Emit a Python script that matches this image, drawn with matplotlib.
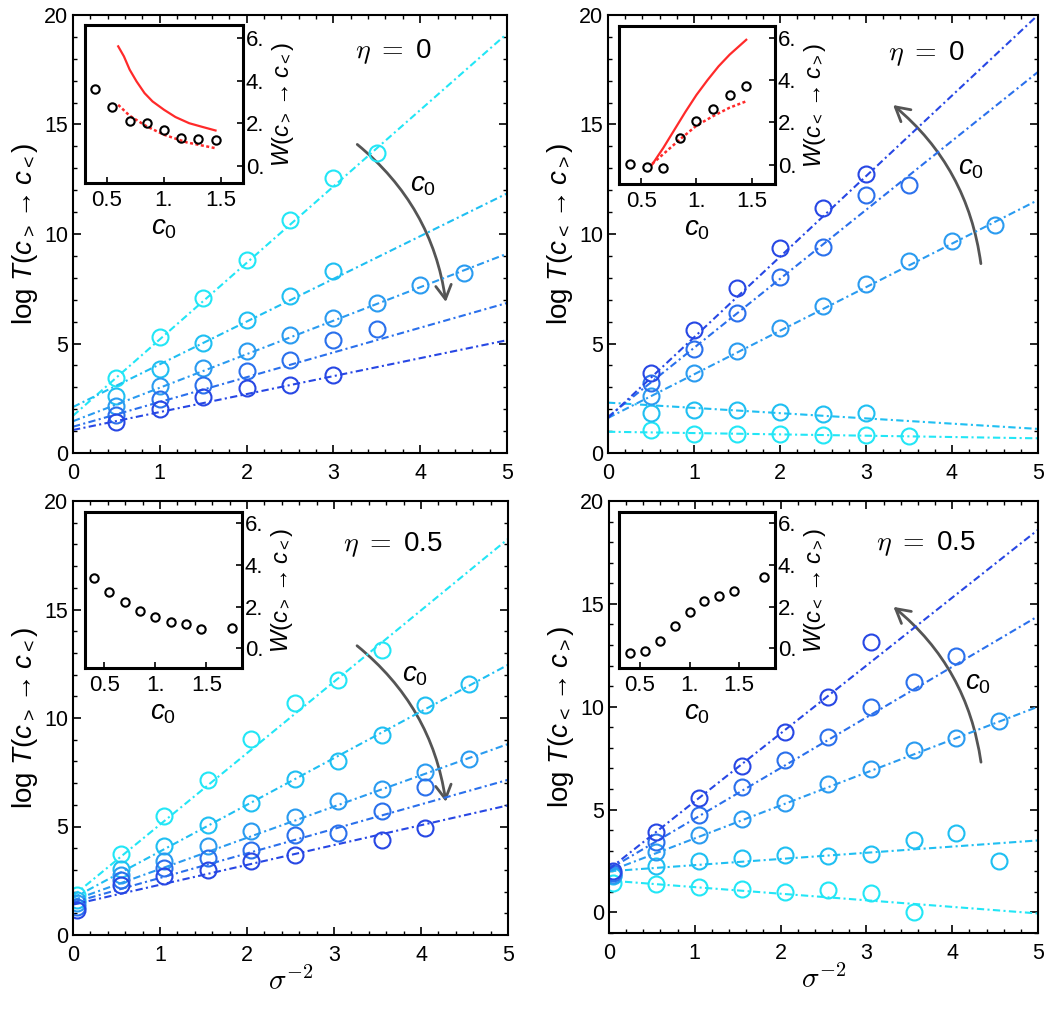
import numpy as np
import matplotlib.pyplot as plt
from matplotlib.patches import FancyArrowPatch
from matplotlib.ticker import MultipleLocator

plt.rcParams['font.family'] = 'Liberation Sans'
plt.rcParams['mathtext.fontset'] = 'custom'
plt.rcParams['mathtext.rm'] = 'Liberation Sans'
plt.rcParams['mathtext.it'] = 'Liberation Sans:italic'
plt.rcParams['mathtext.bf'] = 'Liberation Sans:bold'

# series colours, weakest (cyan) -> strongest (blue)
blues = ['#22E6F6', '#1FBFF2', '#2A9BF0', '#2A70EC', '#2747E4']
red = '#FF2A2A'

# ---------------- top left: eta = 0, c> -> c<
tl_x = [0.5, 1.0, 1.5, 2.0, 2.5, 3.0, 3.5, 4.0, 4.5]
tl_y = [[3.42, 5.29, 7.07, 8.82, 10.62, 12.55, 13.69],
        [2.59, 3.85, 5.02, 6.08, 7.18, 8.29],
        [2.13, 3.04, 3.88, 4.64, 5.40, 6.16, 6.84, 7.65, 8.24],
        [1.75, 2.48, 3.12, 3.73, 4.26, 5.14, 5.66],
        [1.40, 2.00, 2.55, 2.97, 3.12, 3.54]]
tl_b0 = [1.70, 2.10, 1.45, 1.20, 1.05]
tl_b1 = [3.49, 1.95, 1.53, 1.13, 0.82]

# ---------------- top right: eta = 0, c< -> c>
tr_x = [0.5, 1.0, 1.5, 2.0, 2.5, 3.0, 3.5, 4.0, 4.5]
tr_y = [[1.03, 0.88, 0.87, 0.87, 0.84, 0.81, 0.79],
        [1.82, 1.95, 1.95, 1.87, 1.78, 1.82],
        [2.59, 3.65, 4.68, 5.70, 6.69, 7.73, 8.78, 9.66, 10.42],
        [3.19, 4.75, 6.39, 8.02, 9.40, 11.79, 12.24],
        [3.65, 5.63, 7.53, 9.35, 11.18, 12.75]]
tr_b0 = [0.97, 2.30, 1.60, 1.65, 1.60]
tr_b1 = [-0.06, -0.24, 1.99, 3.15, 3.68]

# ---------------- bottom left: eta = 0.5, c> -> c<
bl_x = [0.05, 0.55, 1.05, 1.55, 2.05, 2.55, 3.05, 3.55, 4.05, 4.55]
bl_y = [[1.85, 3.73, 5.47, 7.12, 9.04, 10.71, 11.76, 13.13],
        [1.62, 3.05, 4.08, 5.08, 6.09, 7.20, 8.04, 9.21, 10.60, 11.56],
        [1.46, 2.77, 3.39, 4.11, 4.78, 5.42, 6.19, 6.75, 7.50, 8.12],
        [1.31, 2.54, 3.08, 3.54, 3.93, 4.59, 4.70, 5.70, 6.83],
        [1.16, 2.31, 2.70, 3.00, 3.39, 3.70, np.nan, 4.39, 4.93]]
bl_b0 = [1.80, 1.70, 1.60, 1.50, 1.40]
bl_b1 = [3.29, 2.15, 1.44, 1.13, 0.915]

# ---------------- bottom right: eta = 0.5, c< -> c>
br_x = [0.05, 0.55, 1.05, 1.55, 2.05, 2.55, 3.05, 3.55, 4.05, 4.55]
br_y = [[1.42, 1.39, 1.26, 1.13, 0.99, 1.10, 0.94, 0.00],
        [1.75, 2.27, 2.52, 2.64, 2.80, 2.72, 2.85, 3.50, 3.88, 2.48],
        [1.83, 2.96, 3.74, 4.53, 5.34, 6.23, 6.96, 7.90, 8.46, 9.32],
        [1.91, 3.41, 4.74, 6.12, 7.41, 8.51, 9.97, 11.21, 12.46],
        [1.99, 3.90, 5.55, 7.12, 8.75, 10.45, 13.16]]
br_b0 = [1.55, 2.00, 2.00, 2.10, 2.10]
br_b1 = [-0.32, 0.30, 1.60, 2.46, 3.30]

# ---------------- insets: W vs c0
in_c0 = [0.4, 0.55, 0.7, 0.85, 1.0, 1.15, 1.3, 1.45]
in_c0_b = [0.4, 0.55, 0.7, 0.85, 1.0, 1.15, 1.3, 1.45, 1.75]
tl_w = [3.61, 2.77, 2.11, 2.00, 1.66, 1.30, 1.25, 1.22]
tr_w = [0.06, -0.09, -0.14, 1.27, 2.09, 2.64, 3.28, 3.74]
bl_w = [3.36, 2.69, 2.24, 1.79, 1.49, 1.28, 1.17, 0.93, 0.96]
br_w = [-0.24, -0.11, 0.37, 1.07, 1.73, 2.28, 2.52, 2.75, 3.44]

tl_solid_x = [0.6, 0.65, 0.7, 0.76, 0.83, 0.9, 1.0, 1.1, 1.22, 1.34, 1.45]
tl_solid_y = [5.60, 5.13, 4.51, 3.96, 3.41, 3.02, 2.63, 2.29, 2.00, 1.82, 1.66]
tl_dot_x = [0.6, 0.7, 0.85, 1.0, 1.2, 1.45]
tl_dot_y = [2.86, 2.35, 1.85, 1.46, 1.10, 0.83]
tr_solid_x = [0.6, 0.7, 0.8, 0.9, 1.0, 1.1, 1.2, 1.3, 1.45]
tr_solid_y = [0.02, 0.80, 1.65, 2.50, 3.30, 4.00, 4.65, 5.20, 5.90]
tr_dot_x = [0.6, 0.85, 1.0, 1.15, 1.3, 1.45]
tr_dot_y = [0.05, 1.20, 1.85, 2.30, 2.70, 3.00]

lab_gt = r'log $T(c_{>} \rightarrow c_{<})$'
lab_lt = r'log $T(c_{<} \rightarrow c_{>})$'
wlab_gt = r'$W(c_{>} \rightarrow c_{<})$'
wlab_lt = r'$W(c_{<} \rightarrow c_{>})$'

fig = plt.figure(figsize=(10.63, 10.09), dpi=100)


def main_panel(rect, xs, ys, b0, b1, ylim, ylabel, arrow, rad, c0_pos, eta, eta_pos, xlabel=False):
    ax = fig.add_axes(rect)
    xx = np.array([0.0, 5.0])
    for k in range(5):
        n = len(ys[k])
        ax.plot(xx, b0[k] + b1[k] * xx, color=blues[k], lw=1.5, dashes=(3.5, 1.6, 1.0, 1.6))
        ax.plot(xs[:n], ys[k], 'o', mfc='none', mec=blues[k], ms=11.5, mew=1.5)
    ax.set_xlim(0, 5)
    ax.set_ylim(*ylim)
    ax.set_xticks(range(6))
    ax.set_yticks([0, 5, 10, 15, 20])
    ax.xaxis.set_minor_locator(MultipleLocator(0.2))
    ax.yaxis.set_minor_locator(MultipleLocator(1))
    ax.tick_params(which='both', direction='in', top=True, right=True, labelsize=15.5)
    ax.tick_params(which='major', length=6, width=1.2)
    ax.tick_params(which='minor', length=3, width=1.0)
    ax.tick_params(axis='x', pad=7)
    for s in ax.spines.values():
        s.set_linewidth(1.5)
    ax.set_ylabel(ylabel, fontsize=20, labelpad=3)
    if xlabel:
        ax.set_xlabel(r'$\sigma^{-2}$', fontsize=21, math_fontfamily='cm', labelpad=0)
    arr = FancyArrowPatch(arrow[0], arrow[1], connectionstyle=f'arc3,rad={rad}',
                          arrowstyle='->,head_length=0.5,head_width=0.28',
                          mutation_scale=20, color='#555555', lw=2)
    ax.add_patch(arr)
    ax.text(c0_pos[0], c0_pos[1], '$c_0$', fontsize=20, ha='center', va='center')
    ax.text(eta_pos[0], eta_pos[1], eta, fontsize=20, ha='center', va='center',
            math_fontfamily='cm')
    return ax


def inset_panel(rect, xs, ws, xlim, ylim, ylabel, solid=None, dotted=None):
    ia = fig.add_axes(rect)
    if solid is not None:
        ia.plot(solid[0], solid[1], color=red, lw=1.6)
    if dotted is not None:
        ia.plot(dotted[0], dotted[1], color=red, lw=1.8, dashes=(1.2, 1.0))
    ia.plot(xs, ws, 'o', mfc='none', mec='k', ms=6, mew=1.5)
    ia.set_xlim(*xlim)
    ia.set_ylim(*ylim)
    ia.set_xticks([0.5, 1.0, 1.5])
    ia.set_xticklabels(['0.5', '1.', '1.5'])
    ia.set_yticks([0, 2, 4, 6])
    ia.set_yticklabels(['0.', '2.', '4.', '6.'])
    ia.yaxis.tick_right()
    ia.yaxis.set_label_position('right')
    ia.tick_params(direction='in', length=4, width=1.2, labelsize=16)
    ia.tick_params(axis='x', pad=5)
    ia.tick_params(axis='y', pad=2)
    for s in ia.spines.values():
        s.set_linewidth(2.2)
    ia.set_xlabel('$c_0$', fontsize=20, labelpad=3)
    ia.set_ylabel(ylabel, fontsize=17, labelpad=4)
    return ia


W, H = 1063, 1009


def frac(x0, x1, ytop, ybot):
    return [x0 / W, 1 - ybot / H, (x1 - x0) / W, (ybot - ytop) / H]


main_panel(frac(73, 507, 15, 453), tl_x, tl_y, tl_b0, tl_b1, (0, 20), lab_gt,
           ((3.25, 14.17), (4.30, 6.77)), -0.2, (4.03, 12.24), r'$\eta$ $=$ 0', (3.69, 18.33))
main_panel(frac(608, 1038, 15, 453), tr_x, tr_y, tr_b0, tr_b1, (0, 20), lab_lt,
           ((4.34, 8.52), (3.29, 15.97)), 0.2, (4.22, 13.0), r'$\eta$ $=$ 0', (3.70, 18.25))
main_panel(frac(73, 508, 501, 935), bl_x, bl_y, bl_b0, bl_b1, (0, 20), lab_gt,
           ((3.24, 13.41), (4.29, 6.01)), -0.2, (3.93, 12.0), r'$\eta$ $=$ 0.5', (3.68, 18.0),
           xlabel=True)
main_panel(frac(609, 1038, 501, 933), br_x, br_y, br_b0, br_b1, (-1, 20), lab_lt,
           ((4.34, 7.17), (3.29, 14.94)), 0.2, (4.30, 11.13), r'$\eta$ $=$ 0.5', (3.70, 17.93),
           xlabel=True)

inset_panel(frac(85, 243, 25, 183), in_c0, tl_w, (0.31, 1.69), (-0.8, 6.6), wlab_gt,
            solid=(tl_solid_x, tl_solid_y), dotted=(tl_dot_x, tl_dot_y))
inset_panel(frac(619, 775, 26, 184), in_c0, tr_w, (0.30, 1.71), (-0.9, 6.55), wlab_lt,
            solid=(tr_solid_x, tr_solid_y), dotted=(tr_dot_x, tr_dot_y))
inset_panel(frac(85, 242, 512, 668), in_c0_b, bl_w, (0.31, 1.85), (-0.95, 6.55), wlab_gt)
inset_panel(frac(619, 775, 512, 668), in_c0_b, br_w, (0.29, 1.86), (-0.95, 6.55), wlab_lt)

fig.savefig('out.png', dpi=100, facecolor='white')
